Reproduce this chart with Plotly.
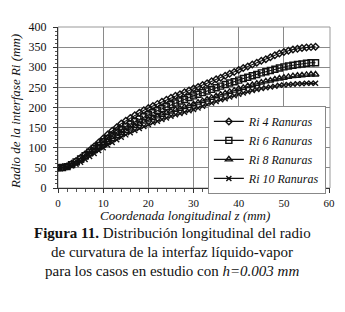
import plotly.graph_objects as go

z_mm = list(range(0, 58))

ri_4 = [50, 51, 54, 60, 67, 75, 84, 93, 103, 113, 123, 133, 142, 151, 160, 167, 174, 181, 187, 193,
        199, 204, 209, 214, 219, 224, 229, 233, 238, 242, 247, 251, 256, 260, 265, 270, 274, 279, 284, 288,
        293, 298, 302, 307, 311, 316, 320, 325, 330, 334, 338, 341, 344, 346, 348, 349, 350, 351]
ri_6 = [50, 51, 53, 58, 65, 72, 80, 89, 98, 106, 115, 123, 131, 139, 146, 153, 159, 165, 171, 177,
        182, 187, 192, 197, 202, 207, 211, 216, 220, 225, 229, 233, 237, 241, 245, 249, 253, 257, 261, 264,
        268, 272, 275, 279, 282, 286, 289, 292, 295, 298, 301, 303, 305, 307, 308, 310, 311, 311]
ri_8 = [50, 51, 52, 56, 62, 68, 76, 84, 92, 100, 108, 115, 122, 129, 136, 142, 148, 154, 159, 165,
        170, 174, 178, 182, 186, 190, 194, 197, 201, 204, 208, 212, 216, 220, 224, 228, 232, 235, 239, 242,
        246, 249, 253, 256, 259, 262, 265, 267, 270, 272, 274, 276, 278, 279, 280, 281, 282, 282]
ri_10 = [50, 51, 52, 55, 59, 64, 71, 78, 86, 93, 100, 107, 113, 120, 126, 132, 137, 143, 148, 153,
         158, 162, 166, 170, 174, 178, 182, 185, 188, 192, 195, 199, 203, 207, 211, 215, 219, 222, 226, 229,
         233, 236, 239, 242, 245, 247, 249, 251, 253, 255, 256, 257, 258, 259, 259, 260, 260, 260]

series_names = ["Ri 4 Ranuras", "Ri 6 Ranuras", "Ri 8 Ranuras", "Ri 10 Ranuras"]
series_values = [ri_4, ri_6, ri_8, ri_10]
symbols = ["diamond-open", "square-open", "triangle-up-open", "x-thin-open"]
sizes = [5, 6, 6, 5]

x_ticks = [0, 10, 20, 30, 40, 50, 60]
y_ticks = [0, 50, 100, 150, 200, 250, 300, 350, 400]

SERIF = "Liberation Serif, Times New Roman, serif"

fig = go.Figure()
for name, vals, sym, sz in zip(series_names, series_values, symbols, sizes):
    fig.add_trace(go.Scatter(
        x=z_mm, y=vals, name=name, mode="lines+markers",
        line=dict(color="#111111", width=1.1),
        marker=dict(symbol=sym, size=sz, color="#111111", line=dict(color="#111111", width=1.4)),
    ))

# page body adds an 8px offset; size and margins compensate so the plot area lands at x 58-330, y 27-188
fig.update_layout(
    width=337, height=304,
    margin=dict(l=50, r=15, t=19, b=124),
    paper_bgcolor="white", plot_bgcolor="white",
    font=dict(family=SERIF, color="#111111", size=12),
    showlegend=True,
    legend=dict(
        x=0.551, y=0.51, xanchor="left", yanchor="top",
        bgcolor="white", bordercolor="#888888", borderwidth=1,
        font=dict(family=SERIF, size=12, style="italic", color="#111111"),
        tracegroupgap=0, itemwidth=30,
    ),
    xaxis=dict(
        range=[0, 60.2], tickmode="linear", tick0=0, dtick=10,
        showgrid=True, gridcolor="#8a8a8a", gridwidth=1, automargin=False,
        zeroline=False, showline=True, linecolor="#333333", linewidth=1,
        ticks="outside", ticklen=4, tickcolor="#333333", ticklabelstandoff=1,
        ticklabeloverflow="allow",
        minor=dict(dtick=2, ticks="outside", ticklen=3, tickcolor="#555555", showgrid=False),
        tickfont=dict(size=11, family=SERIF),
    ),
    yaxis=dict(
        range=[0, 400], tickvals=y_ticks, showgrid=True, gridcolor="#8a8a8a", gridwidth=1,
        automargin=False,
        zeroline=False, showline=True, linecolor="#333333", linewidth=1,
        ticks="outside", ticklen=4, tickcolor="#333333", ticklabelstandoff=4,
        ticklabeloverflow="allow",
        minor=dict(dtick=10, ticks="outside", ticklen=2, tickcolor="#555555", showgrid=False),
        tickfont=dict(size=12, family=SERIF),
    ),
    shapes=[dict(type="rect", xref="paper", yref="paper", x0=0, y0=0, x1=1, y1=1,
                 line=dict(color="#999999", width=1), layer="below")],
    annotations=[
        dict(text="Coordenada longitudinal z (mm)", xref="paper", yref="paper",
             x=0.467, y=-0.17, xanchor="center", yanchor="middle", showarrow=False,
             font=dict(family=SERIF, size=13, style="italic")),
        dict(text="Radio de la interfase Ri (mm)", xref="paper", yref="paper",
             x=-0.158, y=0.472, xanchor="center", yanchor="middle", showarrow=False, textangle=-90,
             font=dict(family=SERIF, size=13, style="italic")),
        dict(text="<b>Figura 11.</b> Distribución longitudinal del radio", xref="paper", yref="paper",
             x=0.42, y=-0.2795, xanchor="center", yanchor="middle", showarrow=False,
             font=dict(family=SERIF, size=15)),
        dict(text="de curvatura de la interfaz líquido-vapor", xref="paper", yref="paper",
             x=0.42, y=-0.3975, xanchor="center", yanchor="middle", showarrow=False,
             font=dict(family=SERIF, size=15)),
        dict(text="para los casos en estudio con <i>h=0.003 mm</i>", xref="paper", yref="paper",
             x=0.42, y=-0.5155, xanchor="center", yanchor="middle", showarrow=False,
             font=dict(family=SERIF, size=15)),
    ],
)

fig.write_html("out.html")
